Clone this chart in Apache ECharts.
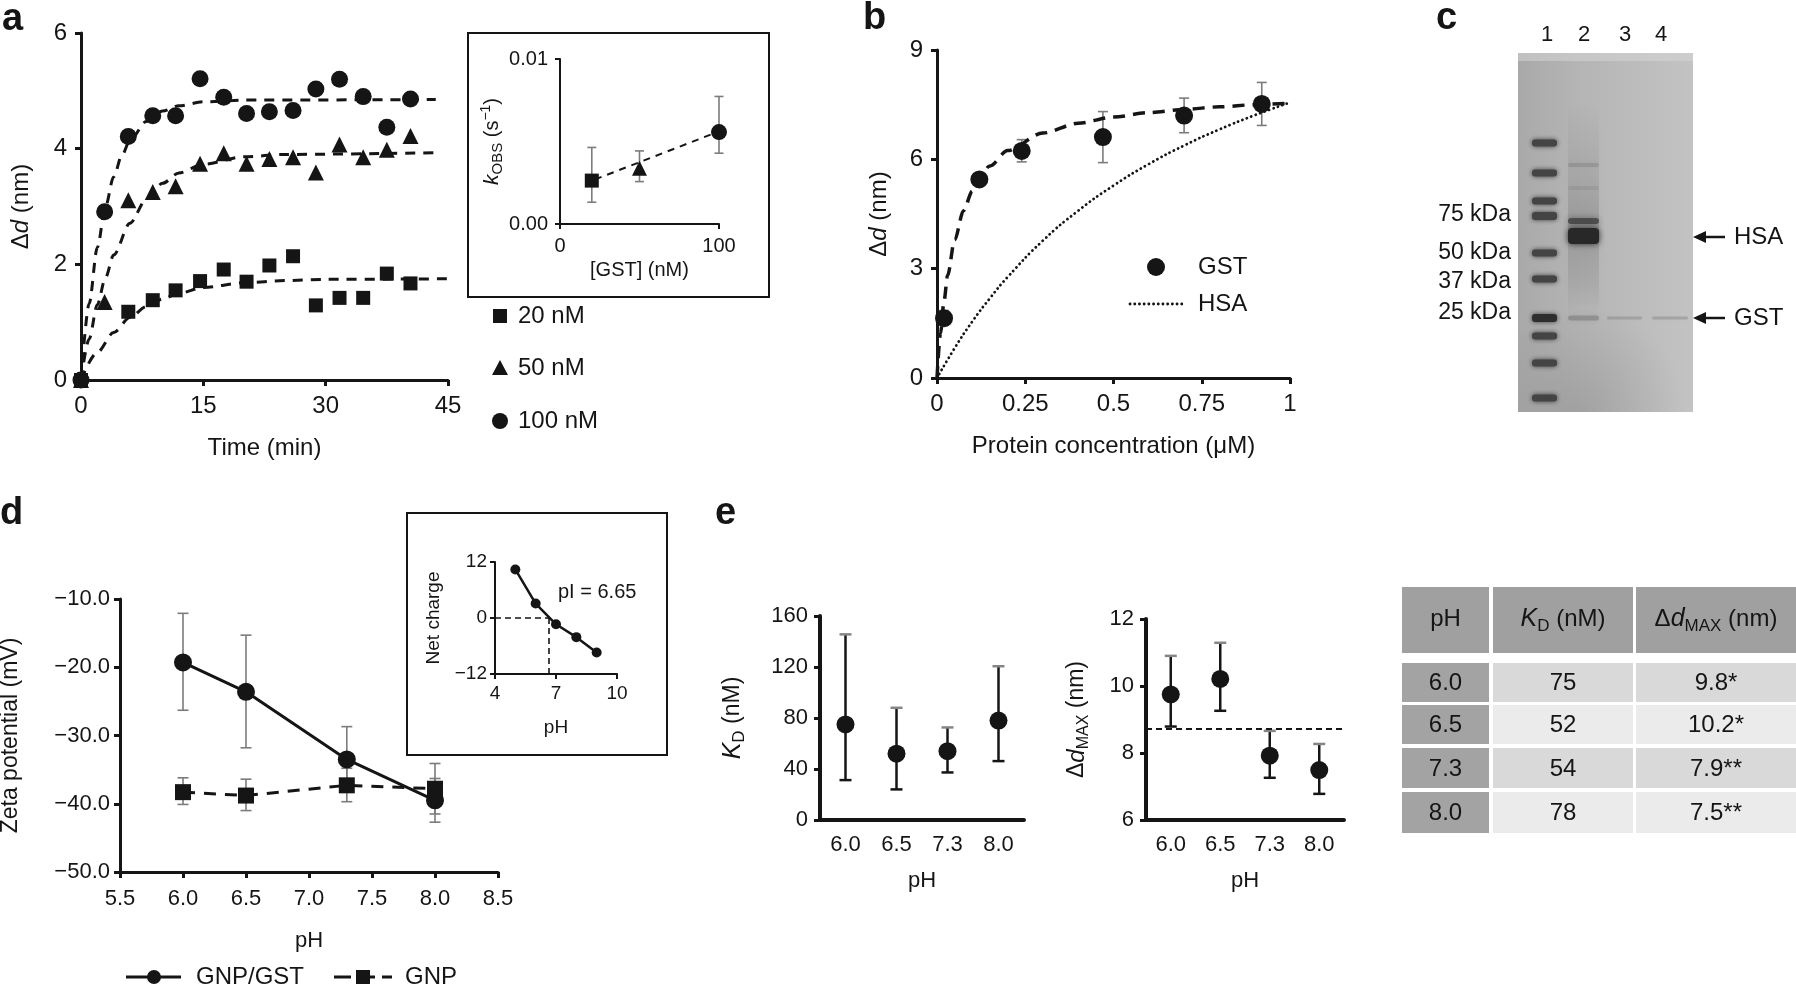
<!DOCTYPE html>
<html>
<head>
<meta charset="utf-8">
<title>GNP/GST binding</title>
<script src="https://cdn.jsdelivr.net/npm/echarts@6/dist/echarts.min.js"></script>
<style>
html, body { margin: 0; padding: 0; background: #fff; }
#main { width: 1796px; height: 988px; }
</style>
</head>
<body>
<div id="main"></div>
<script>
// ---------- panel a: binding kinetics ----------
var timeA = [0, 2.9, 5.8, 8.8, 11.6, 14.6, 17.5, 20.3, 23.1, 26.0, 28.8, 31.7, 34.6, 37.5, 40.4];
var shift20 = [0, null, 1.18, 1.38, 1.55, 1.71, 1.91, 1.70, 1.98, 2.14, 1.29, 1.42, 1.42, 1.84, 1.67];
var shift50 = [0, 1.35, 3.11, 3.25, 3.35, 3.74, 3.92, 3.74, 3.82, 3.85, 3.59, 4.07, 3.85, 3.98, 4.22];
var shift100 = [0, 2.91, 4.21, 4.57, 4.57, 5.21, 4.89, 4.61, 4.64, 4.66, 5.03, 5.20, 4.90, 4.37, 4.86];
// dashed fit curves
var fitTime20 = [0, 2, 4, 6, 8, 10, 12, 15, 20, 25, 30, 45];
var fit20 = [0, 0.48, 0.82, 1.08, 1.27, 1.40, 1.50, 1.60, 1.68, 1.72, 1.74, 1.75];
var fitTime50 = [0, 1, 2, 3, 4, 6, 8, 10, 12, 15, 20, 25, 43.5];
var fit50 = [0, 0.71, 1.30, 1.77, 2.16, 2.71, 3.12, 3.40, 3.58, 3.73, 3.86, 3.90, 3.93];
var fitTime100 = [0, 1, 2, 3, 4, 5, 6, 8, 10, 12, 15, 20, 43.5];
var fit100 = [0, 1.32, 2.29, 3.00, 3.51, 3.88, 4.14, 4.47, 4.65, 4.74, 4.81, 4.84, 4.85];
// inset: k_obs vs [GST]
var gstConc = [20, 50, 100];
var kObs = [0.00263, 0.00338, 0.00557];
var kObsLow = [0.00132, 0.00257, 0.00429];
var kObsHigh = [0.00464, 0.00443, 0.00773];
var kFitConc = [22, 97];
var kFit = [0.0027, 0.0055];

// ---------- panel b: dose response ----------
var protConc = [0.02, 0.12, 0.24, 0.47, 0.70, 0.92];
var gstShift = [1.64, 5.45, 6.23, 6.61, 7.20, 7.52];
var gstLow = [1.45, 5.30, 5.93, 5.91, 6.73, 6.93];
var gstHigh = [1.85, 5.60, 6.54, 7.31, 7.68, 8.11];
var gstFitConc = [0, 0.01, 0.02, 0.03, 0.05, 0.075, 0.1, 0.15, 0.2, 0.3, 0.4, 0.5, 0.6, 0.7, 0.8, 0.9, 1];
var gstFit = [0, 1.23, 2.12, 2.81, 3.79, 4.59, 5.13, 5.82, 6.24, 6.72, 6.99, 7.16, 7.28, 7.37, 7.44, 7.50, 7.54];
var hsaFitConc = [0, 0.05, 0.1, 0.15, 0.2, 0.3, 0.4, 0.5, 0.6, 0.7, 0.8, 0.9, 1];
var hsaFit = [0, 0.82, 1.55, 2.19, 2.77, 3.77, 4.59, 5.28, 5.87, 6.38, 6.82, 7.21, 7.56];

// ---------- panel c: gel ----------
var laneLabels = ['1', '2', '3', '4'];
var markerKda = ['75 kDa', '50 kDa', '37 kDa', '25 kDa'];
var bandNames = ['HSA', 'GST'];

// ---------- panel d: zeta potential ----------
var zetaPh = [6.0, 6.5, 7.3, 8.0];
var zetaGst = [-19.3, -23.6, -33.5, -39.5];
var zetaGstLow = [-26.3, -31.8, -38.3, -42.7];
var zetaGstHigh = [-12.1, -15.3, -28.7, -36.3];
var zetaGnp = [-38.3, -38.8, -37.3, -37.8];
var zetaGnpLow = [-40.1, -41.0, -39.7, -41.5];
var zetaGnpHigh = [-36.2, -36.4, -34.8, -34.1];
// inset: net charge of GST
var chargePh = [5, 6, 7, 8, 9];
var netCharge = [10.4, 3.1, -1.35, -4.1, -7.4];
var pI = 6.65;

// ---------- panel e: K_D and dMAX vs pH ----------
var phCats = ['6.0', '6.5', '7.3', '8.0'];
var kd = [75, 52, 54, 78];
var kdLow = [31.3, 24, 37.3, 46.2];
var kdHigh = [145.6, 88, 72.6, 120.6];
var dmax = [9.75, 10.21, 7.92, 7.49];
var dmaxLow = [8.79, 9.26, 7.26, 6.78];
var dmaxHigh = [10.9, 11.29, 8.66, 8.27];
var dmaxRef = 8.73;
var tablePh = ['6.0', '6.5', '7.3', '8.0'];
var tableKd = ['75', '52', '54', '78'];
var tableDmax = ['9.8*', '10.2*', '7.9**', '7.5**'];

var INK = '#151515';
var GREY = '#7c7c7c';
var FONT = '"Liberation Sans", Arial, Helvetica, sans-serif';

function deepMerge(a, b) {
    for (var k in b) {
        if (b[k] && typeof b[k] === 'object' && !Array.isArray(b[k]) && a[k] && typeof a[k] === 'object') {
            deepMerge(a[k], b[k]);
        } else {
            a[k] = b[k];
        }
    }
    return a;
}

function axis(extra) {
    var base = {
        type: 'value',
        axisLine: { show: true, onZero: false, lineStyle: { color: INK, width: 3 } },
        axisTick: { show: true, length: 6, lineStyle: { color: INK, width: 3 } },
        axisLabel: { color: INK, fontFamily: FONT, fontSize: 24, margin: 14 },
        splitLine: { show: false },
        nameLocation: 'middle',
        nameTextStyle: { color: INK, fontFamily: FONT, fontSize: 24 }
    };
    return deepMerge(base, extra);
}

function pairs(xs, ys) {
    var out = [];
    for (var i = 0; i < xs.length; i++) {
        if (ys[i] != null) out.push([xs[i], ys[i]]);
    }
    return out;
}

function triples(xs, lo, hi) {
    return xs.map(function (x, i) { return [x, lo[i], hi[i]]; });
}

// error bars drawn through the axes of the grid
function errorBars(idx, rows, color, topColor, lw, cap) {
    return {
        type: 'custom', xAxisIndex: idx, yAxisIndex: idx, z: 1, silent: true,
        data: rows,
        encode: { x: 0, y: [1, 2] },
        renderItem: function (params, api) {
            var lo = api.coord([api.value(0), api.value(1)]);
            var hi = api.coord([api.value(0), api.value(2)]);
            var h = cap / 2;
            return {
                type: 'group', children: [
                    { type: 'line', shape: { x1: lo[0], y1: lo[1], x2: hi[0], y2: hi[1] }, style: { stroke: color, lineWidth: lw } },
                    { type: 'line', shape: { x1: lo[0] - h, y1: lo[1], x2: lo[0] + h, y2: lo[1] }, style: { stroke: color, lineWidth: lw } },
                    { type: 'line', shape: { x1: hi[0] - h, y1: hi[1], x2: hi[0] + h, y2: hi[1] }, style: { stroke: topColor, lineWidth: lw } }
                ]
            };
        }
    };
}

function dashLine(idx, data, width, dash, extra) {
    return deepMerge({
        type: 'line', xAxisIndex: idx, yAxisIndex: idx, data: data, symbol: 'none', z: 3,
        smooth: 0.3, smoothMonotone: 'x', silent: true,
        lineStyle: { color: INK, width: width, type: dash }
    }, extra || {});
}

function dots(idx, data, symbol, size) {
    return {
        type: 'scatter', xAxisIndex: idx, yAxisIndex: idx, data: data, z: 4, silent: true,
        symbol: symbol, symbolSize: size, itemStyle: { color: INK, opacity: 1 }
    };
}

var sub = { fontSize: 15, verticalAlign: 'bottom', fontFamily: FONT };
var sup = { fontSize: 14, verticalAlign: 'top', fontFamily: FONT };
var ital = { fontStyle: 'italic', fontFamily: FONT };

var chart = echarts.init(document.getElementById('main'), null, { renderer: 'canvas' });

var grids = [
    { left: 81, top: 33, width: 367, height: 347 },    // a
    { left: 560, top: 59, width: 159, height: 165 },   // a inset
    { left: 937, top: 50, width: 353, height: 328 },   // b
    { left: 120, top: 599, width: 378, height: 273 },  // d
    { left: 495, top: 562, width: 122, height: 112 },  // d inset
    { left: 820, top: 616, width: 204, height: 204 },  // e K_D
    { left: 1146, top: 619, width: 198, height: 201 }  // e dMAX
];
grids.forEach(function (g) { g.outerBoundsMode = 'none'; g.containLabel = false; });

var xAxes = [
    axis({ gridIndex: 0, min: 0, max: 45, interval: 15, name: 'Time (min)', nameGap: 56 }),
    axis({ gridIndex: 1, min: 0, max: 100, interval: 100, name: '[GST] (nM)', nameGap: 36,
        axisLine: { lineStyle: { width: 2 } }, axisTick: { length: 5, lineStyle: { width: 2 } },
        axisLabel: { fontSize: 20, margin: 12 }, nameTextStyle: { fontSize: 20 } }),
    axis({ gridIndex: 2, min: 0, max: 1, interval: 0.25, name: 'Protein concentration (μM)', nameGap: 56 }),
    axis({ gridIndex: 3, min: 5.5, max: 8.5, interval: 0.5, name: 'pH', nameGap: 58,
        axisLabel: { fontSize: 22, margin: 16, formatter: function (v) { return v.toFixed(1); } },
        nameTextStyle: { fontSize: 22 } }),
    axis({ gridIndex: 4, min: 4, max: 10, name: 'pH', nameGap: 44,
        axisLine: { lineStyle: { width: 2 } },
        axisTick: { length: 5, lineStyle: { width: 2 }, customValues: [4, 7, 10] },
        axisLabel: { fontSize: 19, margin: 10, customValues: [4, 7, 10] }, nameTextStyle: { fontSize: 19 } }),
    axis({ gridIndex: 5, type: 'category', data: phCats, name: 'pH', nameGap: 50,
        axisLine: { lineStyle: { width: 4 } }, axisTick: { show: false },
        axisLabel: { fontSize: 22, margin: 14 }, nameTextStyle: { fontSize: 22 } }),
    axis({ gridIndex: 6, type: 'category', data: phCats, name: 'pH', nameGap: 50,
        axisLine: { lineStyle: { width: 4 } }, axisTick: { show: false },
        axisLabel: { fontSize: 22, margin: 14 }, nameTextStyle: { fontSize: 22 } })
];

var yAxes = [
    axis({ gridIndex: 0, min: 0, max: 6, interval: 2, name: 'Δ{i|d} (nm)', nameGap: 48,
        nameTextStyle: { rich: { i: deepMerge({ fontSize: 24 }, ital) } } }),
    axis({ gridIndex: 1, min: 0, max: 0.01, interval: 0.01, name: '{i|k}{s|OBS} (s{p|−1})', nameGap: 50,
        axisLine: { lineStyle: { width: 2 } }, axisTick: { length: 5, lineStyle: { width: 2 } },
        axisLabel: { fontSize: 20, margin: 12, formatter: function (v) { return v.toFixed(2); } },
        nameTextStyle: { fontSize: 20, lineHeight: 26, rich: { i: deepMerge({ fontSize: 21 }, ital), s: sub, p: sup } } }),
    axis({ gridIndex: 2, min: 0, max: 9, interval: 3, name: 'Δ{i|d} (nm)', nameGap: 46,
        nameTextStyle: { rich: { i: deepMerge({ fontSize: 24 }, ital) } } }),
    axis({ gridIndex: 3, min: -50, max: -10, interval: 10, name: 'Zeta potential (mV)', nameGap: 98,
        axisLabel: { fontSize: 22, margin: 10, formatter: function (v) { return '\u2212' + Math.abs(v).toFixed(1); } },
        nameTextStyle: { fontSize: 23 } }),
    axis({ gridIndex: 4, min: -12, max: 12, interval: 12, name: 'Net charge', nameGap: 52,
        axisLine: { lineStyle: { width: 2 } }, axisTick: { length: 5, lineStyle: { width: 2 } },
        axisLabel: { fontSize: 19, margin: 8, formatter: function (v) { return v < 0 ? '\u2212' + Math.abs(v) : '' + v; } },
        nameTextStyle: { fontSize: 19 } }),
    axis({ gridIndex: 5, min: 0, max: 160, interval: 40, name: '{i|K}{s|D} (nM)', nameGap: 72,
        axisLine: { lineStyle: { width: 4 } }, axisTick: { lineStyle: { width: 3 } },
        axisLabel: { fontSize: 22, margin: 12 },
        nameTextStyle: { fontSize: 23, lineHeight: 30, rich: { i: deepMerge({ fontSize: 25 }, ital), s: { fontSize: 17, verticalAlign: 'bottom' } } } }),
    axis({ gridIndex: 6, min: 6, max: 12, interval: 2, name: 'Δ{i|d}{s|MAX} (nm)', nameGap: 54,
        axisLine: { lineStyle: { width: 4 } }, axisTick: { lineStyle: { width: 3 } },
        axisLabel: { fontSize: 22, margin: 12 },
        nameTextStyle: { fontSize: 23, lineHeight: 30, rich: { i: deepMerge({ fontSize: 24 }, ital), s: { fontSize: 16, verticalAlign: 'bottom' } } } })
];

var series = [
    // a
    dashLine(0, pairs(fitTime20, fit20), 3, [10, 8]),
    dashLine(0, pairs(fitTime50, fit50), 3, [10, 8]),
    dashLine(0, pairs(fitTime100, fit100), 3, [10, 8]),
    dots(0, pairs(timeA, shift20), 'rect', 14),
    dots(0, pairs(timeA, shift50), 'triangle', 16),
    dots(0, pairs(timeA, shift100), 'circle', 17),
    // a inset
    errorBars(1, triples(gstConc, kObsLow, kObsHigh), GREY, GREY, 1.6, 9),
    dashLine(1, pairs(kFitConc, kFit), 2, [7, 6], { smooth: false }),
    {
        type: 'scatter', xAxisIndex: 1, yAxisIndex: 1, z: 4, silent: true, itemStyle: { color: INK, opacity: 1 },
        data: gstConc.map(function (c, i) {
            return { value: [c, kObs[i]], symbol: ['rect', 'triangle', 'circle'][i], symbolSize: [14, 15, 16][i] };
        })
    },
    // b
    errorBars(2, triples(protConc, gstLow, gstHigh), GREY, GREY, 1.6, 10),
    dashLine(2, pairs(hsaFitConc, hsaFit), 2.8, [0.1, 4.6], { smooth: 0.5, smoothMonotone: null, lineStyle: { cap: 'round' } }),
    dashLine(2, pairs(gstFitConc, gstFit), 3.5, [12, 8]),
    dots(2, pairs(protConc, gstShift), 'circle', 18),
    // d
    errorBars(3, triples(zetaPh, zetaGstLow, zetaGstHigh), GREY, GREY, 1.6, 11),
    errorBars(3, triples(zetaPh, zetaGnpLow, zetaGnpHigh), GREY, GREY, 1.6, 11),
    {
        type: 'line', xAxisIndex: 3, yAxisIndex: 3, data: pairs(zetaPh, zetaGnp), z: 3, silent: true,
        symbol: 'rect', symbolSize: 16, itemStyle: { color: INK, opacity: 1 },
        lineStyle: { color: INK, width: 3, type: [12, 9] }
    },
    {
        type: 'line', xAxisIndex: 3, yAxisIndex: 3, data: pairs(zetaPh, zetaGst), z: 4, silent: true,
        symbol: 'circle', symbolSize: 18, itemStyle: { color: INK, opacity: 1 },
        lineStyle: { color: INK, width: 3 }
    },
    // d inset
    {
        type: 'line', xAxisIndex: 4, yAxisIndex: 4, data: pairs(chargePh, netCharge), z: 4, silent: true,
        symbol: 'circle', symbolSize: 10, itemStyle: { color: INK, opacity: 1 },
        lineStyle: { color: INK, width: 2.5 },
        markLine: {
            silent: true, symbol: 'none', label: { show: false },
            lineStyle: { color: INK, width: 1.6, type: [6, 4] },
            data: [
                [{ coord: [4, 0] }, { coord: [pI, 0] }],
                [{ coord: [pI, 0] }, { coord: [pI, -12] }]
            ]
        }
    },
    // e
    errorBars(5, triples(phCats.map(function (c, i) { return i; }), kdLow, kdHigh), INK, '#858585', 2.5, 12),
    dots(5, kd.map(function (v, i) { return [i, v]; }), 'circle', 18),
    errorBars(6, triples(phCats.map(function (c, i) { return i; }), dmaxLow, dmaxHigh), INK, '#858585', 2.5, 12),
    {
        type: 'scatter', xAxisIndex: 6, yAxisIndex: 6, z: 4, silent: true,
        data: dmax.map(function (v, i) { return [i, v]; }),
        symbol: 'circle', symbolSize: 18, itemStyle: { color: INK, opacity: 1 },
        markLine: {
            silent: true, symbol: 'none', label: { show: false },
            lineStyle: { color: INK, width: 2, type: [6, 4] },
            data: [{ yAxis: dmaxRef }]
        }
    }
];

// ---------- graphic pieces: letters, legends, gel, table ----------
var g = [];
function txt(x, y, text, size, extra) {
    g.push({
        type: 'text', x: x, y: y, silent: true,
        style: deepMerge({ text: text, fontSize: size, fontFamily: FONT, fill: INK, align: 'left', verticalAlign: 'middle' }, extra || {})
    });
}

// panel letters
txt(2, 20, 'a', 38, { fontWeight: 'bold' });
txt(863, 19, 'b', 38, { fontWeight: 'bold' });
txt(1436, 19, 'c', 38, { fontWeight: 'bold' });
txt(0, 514, 'd', 38, { fontWeight: 'bold' });
txt(715, 514, 'e', 38, { fontWeight: 'bold' });

// inset frames
g.push({ type: 'rect', silent: true, shape: { x: 468, y: 33, width: 301, height: 264 }, style: { fill: 'none', stroke: INK, lineWidth: 2 } });
g.push({ type: 'rect', silent: true, shape: { x: 407, y: 513, width: 260, height: 242 }, style: { fill: 'none', stroke: INK, lineWidth: 2 } });
txt(558, 592, 'pI = ' + pI, 20);

// legend a
var legA = ['20 nM', '50 nM', '100 nM'];
g.push({ type: 'rect', silent: true, shape: { x: 493, y: 309, width: 14, height: 14 }, style: { fill: INK } });
g.push({ type: 'polygon', silent: true, shape: { points: [[500, 360], [508, 375], [492, 375]] }, style: { fill: INK } });
g.push({ type: 'circle', silent: true, shape: { cx: 500, cy: 421, r: 8 }, style: { fill: INK } });
txt(518, 316, legA[0], 24);
txt(518, 368, legA[1], 24);
txt(518, 421, legA[2], 24);

// legend b
g.push({ type: 'circle', silent: true, shape: { cx: 1156, cy: 267, r: 9 }, style: { fill: INK } });
g.push({ type: 'line', silent: true, shape: { x1: 1130, y1: 304, x2: 1183, y2: 304 }, style: { stroke: INK, lineWidth: 2.8, lineDash: [0.1, 4.6], lineCap: 'round' } });
txt(1198, 267, 'GST', 24);
txt(1198, 304, 'HSA', 24);

// legend d
g.push({ type: 'line', silent: true, shape: { x1: 126, y1: 977, x2: 181, y2: 977 }, style: { stroke: INK, lineWidth: 3 } });
g.push({ type: 'circle', silent: true, shape: { cx: 154, cy: 977, r: 7 }, style: { fill: INK } });
txt(196, 977, 'GNP/GST', 24);
g.push({ type: 'line', silent: true, shape: { x1: 334, y1: 977, x2: 392, y2: 977 }, style: { stroke: INK, lineWidth: 3, lineDash: [17, 7] } });
g.push({ type: 'rect', silent: true, shape: { x: 356, y: 970, width: 14, height: 14 }, style: { fill: INK } });
txt(405, 977, 'GNP', 24);

// gel
var gelX = 1518, gelY = 53, gelW = 175, gelH = 359;
g.push({
    type: 'rect', silent: true, shape: { x: gelX, y: gelY, width: gelW, height: gelH },
    style: { fill: new echarts.graphic.LinearGradient(0, 0, 1, 0, [
        { offset: 0, color: '#a9a9a9' }, { offset: 0.35, color: '#b5b5b5' }, { offset: 1, color: '#c3c3c3' }]) }
});
g.push({
    type: 'rect', silent: true, shape: { x: gelX, y: gelY, width: gelW, height: gelH },
    style: { fill: new echarts.graphic.RadialGradient(0.35, 1, 0.6, [
        { offset: 0, color: 'rgba(110,110,110,0.28)' }, { offset: 1, color: 'rgba(110,110,110,0)' }]) }
});
g.push({ type: 'rect', silent: true, shape: { x: gelX, y: gelY, width: gelW, height: 8 }, style: { fill: 'rgba(215,215,215,0.5)' } });
var ladder = [143, 173, 201, 216, 253, 279, 318, 336, 363, 398];
ladder.forEach(function (cy) {
    var h = (cy === 318 || cy === 216) ? 8 : 7;
    g.push({
        type: 'rect', silent: true, shape: { x: 1532, y: cy - h / 2, width: 25, height: h, r: 3 },
        style: { fill: cy === 318 ? '#2e2e2e' : '#444', shadowBlur: 5, shadowColor: 'rgba(50,50,50,0.9)' }
    });
});
// lane 2 smear and bands
g.push({
    type: 'rect', silent: true, shape: { x: 1568, y: 100, width: 31, height: 215 },
    style: { fill: new echarts.graphic.LinearGradient(0, 0, 0, 1, [
        { offset: 0, color: 'rgba(90,90,90,0)' }, { offset: 0.3, color: 'rgba(90,90,90,0.1)' },
        { offset: 0.6, color: 'rgba(70,70,70,0.22)' }, { offset: 0.85, color: 'rgba(90,90,90,0.12)' },
        { offset: 1, color: 'rgba(90,90,90,0)' }]), shadowBlur: 8, shadowColor: 'rgba(90,90,90,0.25)' }
});
[[165, 4, 'rgba(110,110,110,0.3)'], [188, 4, 'rgba(110,110,110,0.18)'], [221, 6, 'rgba(60,60,60,0.75)'],
 [236, 16, '#282828'], [318, 5, 'rgba(100,100,100,0.4)']].forEach(function (b) {
    g.push({
        type: 'rect', silent: true, shape: { x: 1568, y: b[0] - b[1] / 2, width: 31, height: b[1], r: 4 },
        style: { fill: b[2], shadowBlur: 6, shadowColor: b[2] }
    });
});
[[1607, 35], [1652, 36]].forEach(function (l) {
    g.push({
        type: 'rect', silent: true, shape: { x: l[0], y: 316.5, width: l[1], height: 3, r: 1.5 },
        style: { fill: 'rgba(120,120,120,0.35)', shadowBlur: 3, shadowColor: 'rgba(120,120,120,0.35)' }
    });
});
[1547, 1584, 1625, 1661].forEach(function (x, i) { txt(x, 35, laneLabels[i], 22, { align: 'center' }); });
[215, 253, 282, 313].forEach(function (y, i) { txt(1511, y, markerKda[i], 23, { align: 'right' }); });
[237, 318].forEach(function (y, i) {
    g.push({ type: 'line', silent: true, shape: { x1: 1702, y1: y, x2: 1725, y2: y }, style: { stroke: INK, lineWidth: 2.5 } });
    g.push({ type: 'polygon', silent: true, shape: { points: [[1693, y], [1706, y - 6], [1706, y + 6]] }, style: { fill: INK } });
    txt(1734, y, bandNames[i], 24);
});

// table
var cols = [[1402, 87], [1493, 140], [1636, 160]];
var rows = [[663, 39], [705, 39], [748, 40], [792, 41]];
var headers = ['pH', '{i|K}{s|D} (nM)', 'Δ{i|d}{s|MAX} (nm)'];
var headRich = { i: { fontStyle: 'italic', fontSize: 25, fontFamily: FONT }, s: { fontSize: 17, verticalAlign: 'bottom', fontFamily: FONT } };
cols.forEach(function (c, j) {
    g.push({ type: 'rect', silent: true, shape: { x: c[0], y: 587, width: c[1], height: 66 }, style: { fill: '#a0a0a0' } });
    g.push({
        type: 'text', silent: true, x: c[0] + c[1] / 2, y: 619,
        style: { text: headers[j], fontSize: 24, lineHeight: 32, fontFamily: FONT, fill: INK, align: 'center', verticalAlign: 'middle', rich: headRich }
    });
});
rows.forEach(function (r, i) {
    var shade = i % 2 === 0 ? '#d9d9d9' : '#ebebeb';
    var vals = [tablePh[i], tableKd[i], tableDmax[i]];
    cols.forEach(function (c, j) {
        g.push({ type: 'rect', silent: true, shape: { x: c[0], y: r[0], width: c[1], height: r[1] }, style: { fill: j === 0 ? '#a3a3a3' : shade } });
        txt(c[0] + c[1] / 2, r[0] + r[1] / 2 + 1, vals[j], 24, { align: 'center' });
    });
});

chart.setOption({
    animation: false,
    backgroundColor: '#ffffff',
    textStyle: { fontFamily: FONT },
    grid: grids,
    xAxis: xAxes,
    yAxis: yAxes,
    series: series,
    graphic: g
});
</script>
</body>
</html>
